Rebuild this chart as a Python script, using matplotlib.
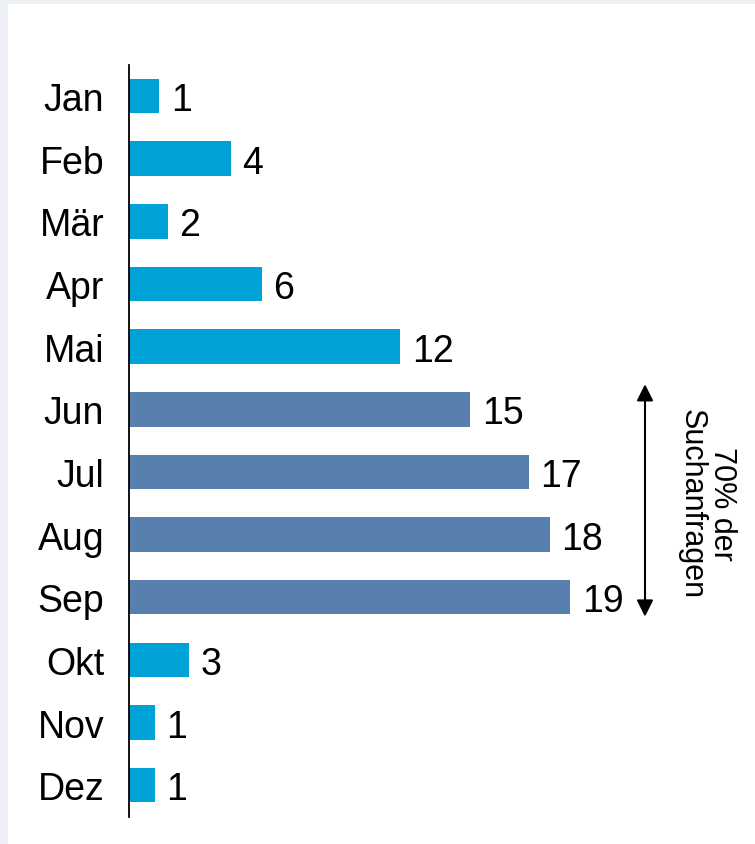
import matplotlib.pyplot as plt
from matplotlib.patches import Rectangle

months = ["Jan", "Feb", "Mär", "Apr", "Mai", "Jun", "Jul", "Aug", "Sep", "Okt", "Nov", "Dez"]
# bar lengths (share of searches, %), labels are the rounded figures
values = [1.33, 4.39, 1.68, 5.72, 11.69, 14.7, 17.2, 18.1, 19.0, 2.58, 1.12, 1.12]
labels = [1, 4, 2, 6, 12, 15, 17, 18, 19, 3, 1, 1]
highlight = ["Jun", "Jul", "Aug", "Sep"]
note = "70% der\nSuchanfragen"

light = "#00A3D8"
dark = "#5880AE"

plt.rcParams['font.family'] = ['Liberation Sans', 'DejaVu Sans']

fig = plt.figure(figsize=(7.55, 8.45), dpi=100)
fig.patch.set_facecolor("#EDF1F6")

W, H = 755, 845
# white panel behind everything
bg = fig.add_axes([8 / W, 0, 1 - 8 / W, 1 - 5 / H], zorder=-10)
bg.add_patch(Rectangle((0, 0), 1, 1, transform=bg.transAxes, facecolor="white", edgecolor="none"))
bg.axis("off")

left, right = 128.5, 700
top, bottom = 65.7, 817.5
ax = fig.add_axes([left / W, 1 - bottom / H, (right - left) / W, (bottom - top) / H])
ax.set_facecolor("none")

px_per_unit = 23.26
ax.set_xlim(0, (right - left) / px_per_unit)
ax.set_ylim(len(months) - 0.5, -0.5)

colors = [dark if m in highlight else light for m in months]
ypos = list(range(len(months)))
ax.barh(ypos, values, height=0.55, color=colors, zorder=2)

for y, v, lab in zip(ypos, values, labels):
    ax.text(v + 0.5, y, str(lab), va="center_baseline", ha="left", fontsize=27, color="black")

ax.set_yticks(ypos)
ax.set_yticklabels(months, fontsize=27)
for t in ax.get_yticklabels():
    t.set_va("center_baseline")
ax.tick_params(axis="y", length=0, pad=17.5)
ax.set_xticks([])
for s in ["top", "right", "bottom"]:
    ax.spines[s].set_visible(False)
ax.spines["left"].set_linewidth(1.3)

# arrow bracket over Jun-Sep
i0 = months.index(highlight[0])
i1 = months.index(highlight[-1])
xa = (645 - left) / px_per_unit
ax.annotate("", xy=(xa, i0 - 0.4), xytext=(xa, i1 + 0.31),
            arrowprops=dict(arrowstyle="<|-|>", color="black", lw=1.5,
                            mutation_scale=25, shrinkA=0, shrinkB=0),
            annotation_clip=False)
ax.text((707 - left) / px_per_unit, (i0 + i1) / 2, note, rotation=270,
        ha="center", va="center", fontsize=22, linespacing=1.0, clip_on=False)

fig.savefig("out.png", dpi=100, facecolor=fig.get_facecolor())
